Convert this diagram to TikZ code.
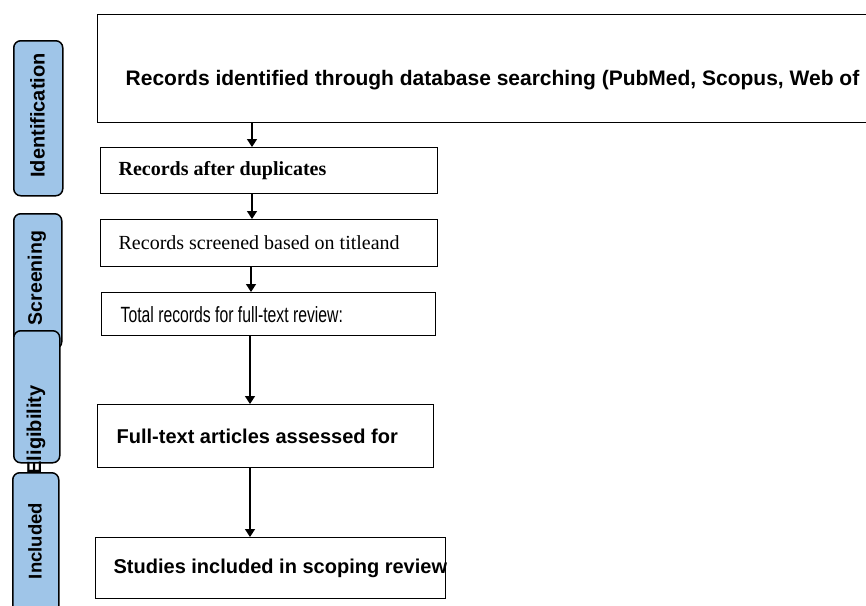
\documentclass[tikz,border=0pt]{standalone}
\usepackage{graphicx}
\usepackage{fontspec}
\setmainfont{Liberation Serif}
\newfontfamily\arial{Liberation Sans}
\usetikzlibrary{arrows.meta}
\definecolor{stageblue}{RGB}{159,197,232}
\begin{document}
\begin{tikzpicture}[x=1pt,y=-1pt,
  box/.style={draw=black, line width=1.3pt, fill=white, inner xsep=18pt, inner ysep=0pt, anchor=north west},
  stage/.style={draw=black, line width=1.5pt, fill=stageblue, rounded corners=7pt, inner sep=0pt, anchor=north west},
  stagetext/.style={rotate=90, inner sep=0pt, font=\arial\bfseries\fontsize{20}{24}\selectfont},
  arr/.style={-{Triangle[width=10pt,length=8pt]}, line width=1.4pt}]
\useasboundingbox (0,0) rectangle (866,605);
\clip (0,0) rectangle (866,605);
% stage labels
\node[stage, minimum width=49pt, minimum height=155pt] (s1) at (13,40) {};
\node[stagetext] (s1t) at (37.5,115.5) {Identification};
\node[stage, minimum width=48pt, minimum height=135pt] (s2) at (13,213) {};
\node[stagetext, font=\arial\bfseries\fontsize{19.5}{24}\selectfont] (s2t) at (37,278) {Screening};
\node[stage, minimum width=46pt, minimum height=132pt] (s3) at (13,330) {};
\node[stagetext] (s3t) at (36,430) {Eligibility};
\node[stage, minimum width=46pt, minimum height=150pt] (s4) at (12,472) {};
\node[stagetext, font=\arial\bfseries\fontsize{18.5}{24}\selectfont] (s4t) at (35,541) {Included};
% main boxes
\node[box, minimum width=791pt, minimum height=108pt] (b1) at (97,14) {};
\node[inner sep=0pt, font=\arial\bfseries\fontsize{21}{24}\selectfont] (t1) at (492.5,80) {Records identified through database searching (PubMed, Scopus, Web of};
\node[box, minimum height=46pt, font=\bfseries\fontsize{20}{24}\selectfont] (b2) at (100,147) {\makebox[301pt][l]{Records after duplicates}};
\node[box, minimum height=47pt, font=\fontsize{20}{24}\selectfont] (b3) at (100,219) {\makebox[301pt][l]{Records screened based on titleand}};
\node[box, minimum height=43pt, inner xsep=19pt, font=\arial\fontsize{21}{24}\selectfont] (b4) at (101,292) {\makebox[296pt][l]{\scalebox{0.75}[1.05]{Total records for full-text review:}}};
\node[box, minimum height=63pt, inner xsep=19pt, font=\arial\bfseries\fontsize{20}{24}\selectfont] (b5) at (97,404) {\makebox[298pt][l]{Full-text articles assessed for}};
\node[box, minimum height=61pt, font=\arial\bfseries\fontsize{20}{24}\selectfont] (b6) at (95,537) {\makebox[314pt][l]{Studies included in scoping review}};
% arrows
\coordinate (c1) at (252,0);
\coordinate (c3) at (251,0);
\coordinate (c4) at (250,0);
\draw[arr] (b1.south -| c1) -- (b2.north -| c1);
\draw[arr] (b2.south -| c1) -- (b3.north -| c1);
\draw[arr] (b3.south -| c3) -- (b4.north -| c3);
\draw[arr] (b4.south -| c4) -- (b5.north -| c4);
\draw[arr] (b5.south -| c4) -- (b6.north -| c4);
\end{tikzpicture}
\end{document}
